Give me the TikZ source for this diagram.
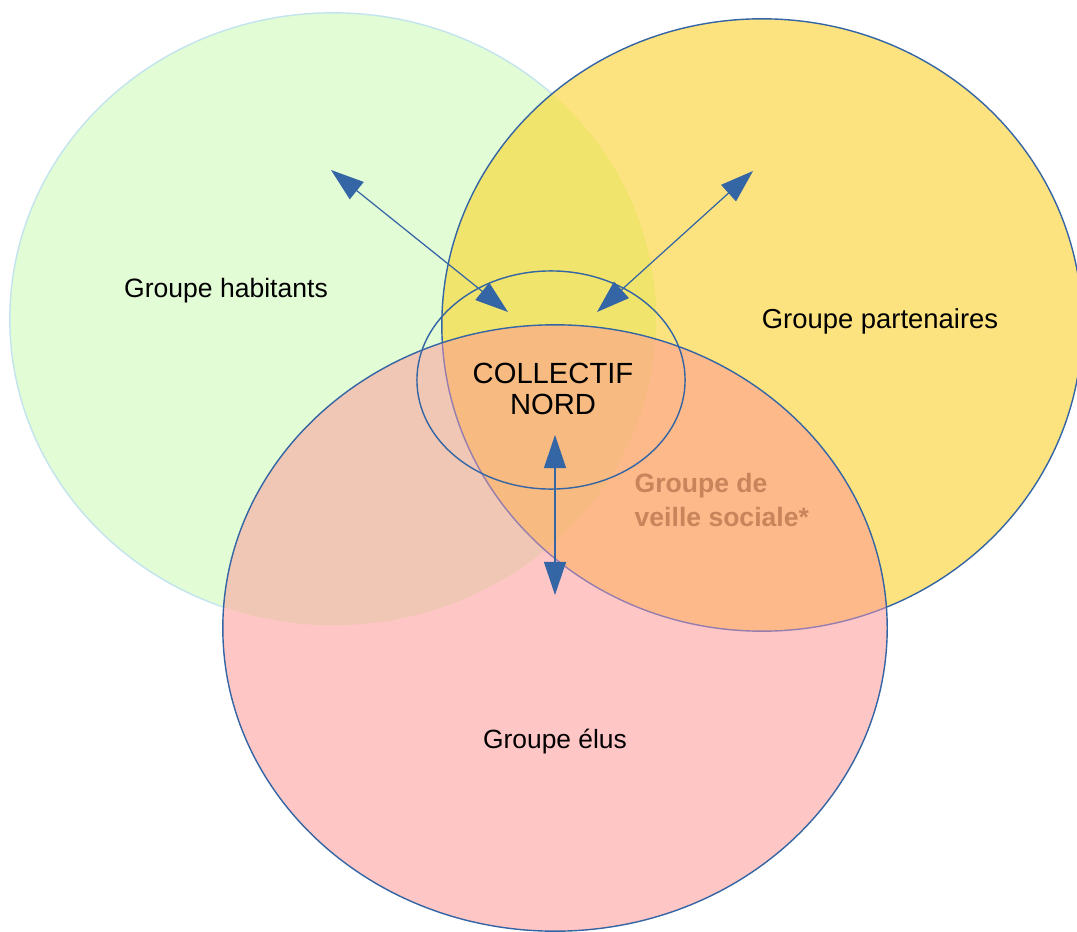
\documentclass[tikz,border=0pt]{standalone}
\usepackage{fontspec}
\setmainfont{Liberation Sans}
\usetikzlibrary{arrows.meta}
\definecolor{gcol}{RGB}{226,252,214}
\definecolor{ycol}{RGB}{253,227,128}
\definecolor{pcol}{RGB}{255,198,198}
\definecolor{gycol}{RGB}{240,228,108}
\definecolor{gpcol}{RGB}{240,199,180}
\definecolor{ypcol}{RGB}{253,185,138}
\definecolor{gypcol}{RGB}{247,186,128}
\definecolor{lineblue}{RGB}{52,101,164}
\definecolor{ylinein}{RGB}{150,125,175}
\definecolor{glight}{RGB}{195,228,238}
\definecolor{veille}{RGB}{200,132,90}
\tikzset{
  link/.style={lineblue, line width=0.35pt, {Triangle[length=0.33cm,width=0.22cm]}-{Triangle[length=0.33cm,width=0.22cm]}},
  lbl/.style={inner sep=0pt, text=black, align=center},
}
\newcommand{\GPath}{(333,319) ellipse [x radius=3.23cm, y radius=3.06cm]}
\newcommand{\YPath}{(762,325) ellipse [x radius=3.20cm, y radius=3.06cm]}
\newcommand{\PPath}{(555,628) ellipse [x radius=3.32cm, y radius=3.03cm]}
\begin{document}
\begin{tikzpicture}[x=0.01cm, y=-0.01cm]
\useasboundingbox (0,0) rectangle (1077,931);
\begin{scope}
\clip (0,0) rectangle (1077,931);
% green circle
\fill[gcol] \GPath;
\draw[glight, line width=0.4pt] \GPath;
% yellow circle
\fill[ycol] \YPath;
\begin{scope}\clip \GPath; \fill[gycol] \YPath; \end{scope}
\draw[lineblue, line width=0.4pt] \YPath;
% pink circle
\fill[pcol] \PPath;
\begin{scope}\clip \GPath; \fill[gpcol] \PPath; \end{scope}
\begin{scope}\clip \YPath; \fill[ypcol] \PPath; \end{scope}
\begin{scope}\clip \GPath; \clip \YPath; \fill[gypcol] \PPath; \end{scope}
\begin{scope}\clip \PPath; \draw[ylinein, line width=0.4pt] \YPath; \end{scope}
\draw[lineblue, line width=0.4pt] \PPath;
% collectif ellipse
\draw[lineblue, line width=0.4pt] (551,380) ellipse [x radius=1.34cm, y radius=1.09cm];
\end{scope}

\node[lbl, font=\fontsize{7.55pt}{9pt}\selectfont] (hab) at (226,291) {Groupe habitants};
\node[lbl, font=\fontsize{7.8pt}{9pt}\selectfont] (par) at (880,321) {Groupe partenaires};
\node[lbl, font=\fontsize{7.5pt}{9pt}\selectfont] (elus) at (555,742) {Groupe élus};
\node[lbl, font=\fontsize{8.3pt}{8.8pt}\selectfont] (col) at (553,389) {COLLECTIF\\NORD};
\node[inner sep=0pt, anchor=west, align=left, text=veille, font=\bfseries\fontsize{7.55pt}{9.67pt}\selectfont] (veil) at (634,500) {Groupe de\\veille sociale*};

\coordinate (habend) at (331,170);
\coordinate (colnw) at (508,312);
\coordinate (parend) at (753,171);
\coordinate (colne) at (597,312);
\coordinate (colsouth) at (555,435);
\coordinate (elusend) at (555,595);
\draw[link] (habend) -- (colnw);
\draw[link] (parend) -- (colne);
\draw[link] (colsouth) -- (elusend);
\end{tikzpicture}
\end{document}
